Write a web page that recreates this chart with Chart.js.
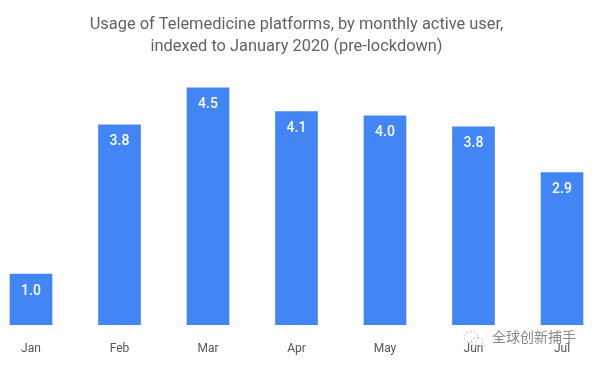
<!DOCTYPE html>
<html>
<head>
<meta charset="utf-8">
<script src="https://cdn.jsdelivr.net/npm/chart.js@4"></script>
<style>
  html, body { margin: 0; padding: 0; background: #fff; }
  #wrap { position: relative; width: 593px; height: 365px; overflow: hidden; }
  #mark { position: absolute; left: 492px; top: 326px; font: 14px "Noto Sans CJK SC"; color: #8a8a8a; }
  #icon { position: absolute; left: 461px; top: 330px; }
</style>
</head>
<body>
<div id="wrap">
  <canvas id="usageChart" width="593" height="365"></canvas>
  <svg id="icon" width="24" height="18" fill="none" stroke="#bdbdbd" stroke-dasharray="2 2">
    <ellipse cx="10" cy="7" rx="7" ry="5.5"/>
    <ellipse cx="16" cy="12" rx="6" ry="4.5"/>
  </svg>
  <div id="mark">全球创新捕手</div>
</div>
<script>
// Data
const months = ["Jan", "Feb", "Mar", "Apr", "May", "Jun", "Jul"];
const barValues = [0.96, 3.8, 4.5, 4.05, 3.97, 3.76, 2.89];
const valueLabels = ["1.0", "3.8", "4.5", "4.1", "4.0", "3.8", "2.9"];
const titleLines = [
    "Usage of Telemedicine platforms, by monthly active user,",
    "indexed to January 2020 (pre-lockdown)"
];

// Chart.js has no built in data labels, so draw them here
const barLabels = {
    id: 'barLabels',
    afterDatasetsDraw(chart) {
        const ctx = chart.ctx;
        ctx.save();
        ctx.fillStyle = '#ffffff';
        ctx.font = '500 14px Roboto';
        ctx.textAlign = 'center';
        ctx.textBaseline = 'middle';
        chart.getDatasetMeta(0).data.forEach((bar, i) => {
            ctx.fillText(valueLabels[i], bar.x, bar.y + 17);
        });
        ctx.restore();
    }
};

const usageChart = new Chart(document.getElementById('usageChart'), {
    type: 'bar',
    data: {
        labels: months,
        datasets: [{
            data: barValues,
            backgroundColor: '#4285f4',
            barThickness: 42,
            clip: false
        }]
    },
    options: {
        responsive: false,
        animation: false,
        layout: { padding: { left: 31, right: 31, top: 0, bottom: 0 } },
        scales: {
            x: {
                offset: false,
                grid: { display: false },
                border: { display: false },
                ticks: {
                    color: '#555555',
                    font: { family: 'Roboto', size: 12 },
                    padding: 9,
                    maxRotation: 0
                }
            },
            y: {
                display: false,
                min: 0,
                max: 5
            }
        },
        plugins: {
            legend: { display: false },
            tooltip: { enabled: false },
            title: {
                display: true,
                text: titleLines,
                color: '#5f6368',
                font: { family: 'Roboto', size: 16.4, weight: 'normal', lineHeight: 1.33 },
                padding: { top: 14, bottom: 4 }
            }
        }
    },
    plugins: [barLabels]
});
</script>
</body>
</html>
